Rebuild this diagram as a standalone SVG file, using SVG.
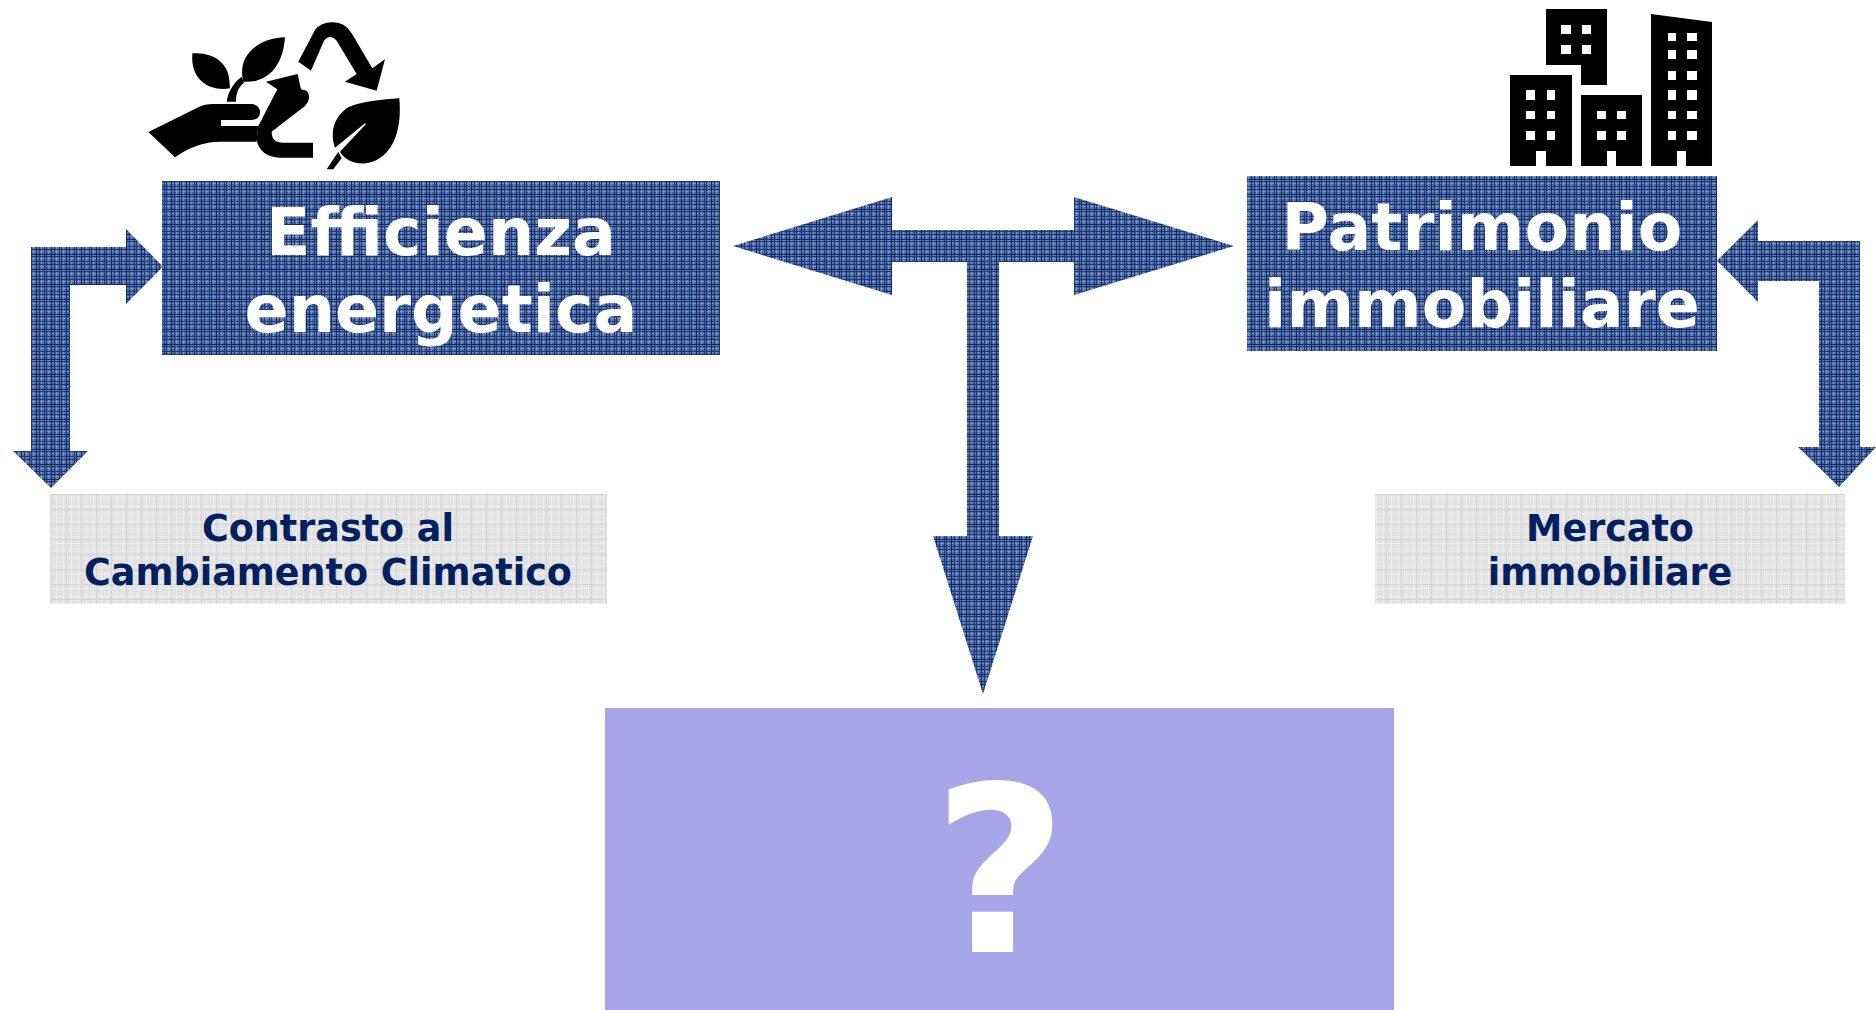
<svg xmlns="http://www.w3.org/2000/svg" width="1876" height="1010" viewBox="0 0 1876 1010">
<style>
text{font-family:"DejaVu Sans","Liberation Sans",sans-serif;font-weight:700;text-anchor:middle}
.w{fill:#fff;font-size:65px}
.n{fill:#002060;font-size:36.5px}
.k{fill:#000}
.h{fill:#fff}
.b{fill:url(#plaid)}
</style>
<defs>
<pattern id="plaid" patternUnits="userSpaceOnUse" width="15" height="15">
<rect width="15" height="15" fill="#4d6699"/>
<path d="M0 0h15v1H0zM0 7h15v1H0z" fill="#5f75a5"/>
<path d="M3 0h1v15H3zM11 0h1v15h-1zM0 3h15v1H0zM0 11h15v1H0z" fill="#7d90b8"/>
<path d="M1 0h1v15H1zM6 0h1v15H6zM9 0h1v15H9zM14 0h1v15h-1zM0 1h15v1H0zM0 6h15v1H0zM0 9h15v1H0zM0 14h15v1H0z" fill="#1c3a7e"/>
<path d="M6 0h1v15H6zM0 14h15v1H0z" fill="#0a2a72"/>
</pattern>
<pattern id="plaidg" patternUnits="userSpaceOnUse" width="15" height="15">
<rect width="15" height="15" fill="#e2e2e2"/>
<path d="M3 0h1v15H3zM11 0h1v15h-1zM0 3h15v1H0zM0 11h15v1H0z" fill="#ececec"/>
<path d="M6 0h1v15H6zM0 14h15v1H0z" fill="#d6d6d6"/>
</pattern>
</defs>
<g id="connectors">
<path class="b" d="M31 247H126V229L163 266.700L126 304V285H70V451H88L51 488L13 451H31Z"/>
<path class="b" d="M733 246L892 197V230H1074V197L1234 246L1074 295V262H999V536H1033L983 694L933 536H967V262H892V295Z"/>
<path class="b" d="M1717 260.700L1758 220V241H1860V447H1876L1839 487L1798 447H1819V281H1758V302Z"/>
</g>
<g id="node-efficienza">
<rect class="b" x="162" y="181" width="558" height="174"/>
<text class="w" x="441" y="255">Efficienza</text>
<text class="w" x="441" y="332">energetica</text>
</g>
<g id="node-patrimonio">
<rect class="b" x="1247" y="176" width="470" height="175"/>
<text class="w" x="1482" y="250">Patrimonio</text>
<text class="w" x="1482" y="327">immobiliare</text>
</g>
<g id="node-contrasto">
<rect fill="url(#plaidg)" x="50" y="494" width="557" height="110"/>
<text class="n" x="328" y="541">Contrasto al</text>
<text class="n" x="328" y="585">Cambiamento Climatico</text>
</g>
<g id="node-mercato">
<rect fill="url(#plaidg)" x="1375" y="494" width="470" height="110"/>
<text class="n" x="1610" y="541">Mercato</text>
<text class="n" x="1610" y="585">immobiliare</text>
</g>
<g id="node-question">
<rect fill="#a5a5e8" x="605" y="708" width="789" height="302"/>
<text x="1000" y="952" fill="#fff" style="font-size:232px">?</text>
</g>
<g id="icon-green" transform="translate(120 0) scale(.3333)">
<path class="k" d="M85 396L235 322Q255 312 280 312H392C428 312 430 358 395 360H303V378H415L410 425H300Q230 425 165 472Z"/>
<path class="k" d="M438 245L533 222L543 268L560 272Q578 292 555 318L455 395Q455 428 490 428H579V473H480Q420 470 410 420L415 378L472 268Z"/>
<path class="k" d="M535 185L585 90Q605 65 640 67Q675 67 695 100L757 205L795 178L770 272L675 245L710 222L650 122Q630 100 612 122L573 212Z"/>
<path class="k" d="M838 295C838 295 720 300 680 325C640 355 630 400 645 443L735 370L738 372L660 455C680 490 730 500 770 480C830 450 845 370 838 295Z"/>
<path class="k" d="M655 455L620 508H640L665 475Z"/>
<path class="k" d="M217 160C280 155 325 190 328 240L330 265C280 275 210 250 217 160Z"/>
<path class="k" d="M495 112C490 190 450 250 370 245C350 170 410 115 495 112Z"/>
<path class="k" d="M320 305C325 270 345 245 365 230L372 248C355 262 348 280 348 305Z"/>
</g>
<g id="icon-buildings" transform="translate(1480 0) scale(.3333)">
<path class="k" d="M198 27H381V255H303V195H198Z"/>
<path class="k" d="M90 225H276V498H198V453H168V498H90Z"/>
<path class="k" d="M303 285H486V498H408V453H381V498H303Z"/>
<path class="k" d="M513 42L696 66V498H618V453H591V498H513Z"/>
<path class="h" d="M243 75h30v27h-30zM306 75h27v27h-27zM243 135h30v27h-30zM306 135h27v27h-27zM138 270h27v30h-27zM201 270h24v30h-24zM138 333h27v24h-27zM201 333h24v24h-24zM138 393h27v27h-27zM201 393h24v27h-24zM351 333h27v24h-27zM411 333h27v24h-27zM351 393h27v27h-27zM411 393h27v27h-27zM564 99h24v24h-24zM621 99h30v24h-30zM564 150h24v27h-24zM621 150h30v27h-30zM564 213h24v27h-24zM621 213h30v27h-30zM564 270h24v30h-24zM621 270h30v30h-30zM564 333h24v24h-24zM621 333h30v24h-30zM564 393h24v27h-24zM621 393h30v27h-30z"/>
</g>
</svg>
